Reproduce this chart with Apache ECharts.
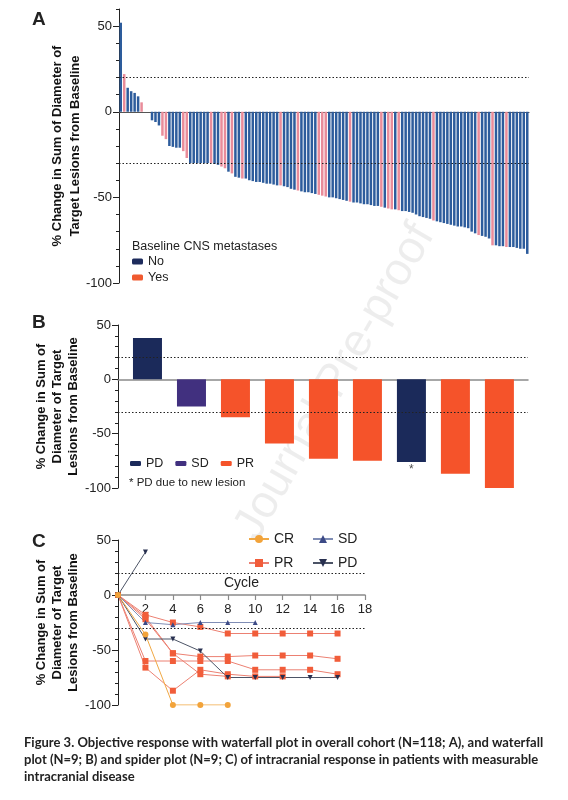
<!DOCTYPE html>
<html><head><meta charset="utf-8">
<script src="https://cdn.jsdelivr.net/npm/echarts@6/dist/echarts.min.js"></script>
<style>html,body{margin:0;padding:0;background:#fff}#c{width:568px;height:800px}</style>
</head><body><div id="c"></div>
<script>
// ---------- Panel A: waterfall, overall cohort (N=118) ----------
const waterfallValues = [
  52, 22, 14, 12, 11, 9, 5.5, 0, 0, -5,
  -6, -8, -14, -16, -20, -20.5, -21, -21, -23, -27,
  -30, -30, -30, -30, -30, -30, -30, -30.5, -31, -32,
  -33, -35, -36, -38, -38.5, -39, -39, -40, -40.5, -41,
  -41, -41.5, -42, -42, -42.5, -43, -43, -43.5, -44, -45,
  -45.5, -46, -46.5, -47, -47, -47.5, -48, -48.5, -49, -49.5,
  -50, -50, -50.5, -51, -51.5, -52, -52.5, -53, -53, -53.5,
  -54, -54, -54.5, -55, -55, -55.5, -56, -56.5, -57, -57,
  -57.5, -58, -58, -58.5, -59, -60, -61, -61.5, -62, -62.5,
  -63.5, -64, -64.5, -65, -65.5, -66, -66.5, -67, -67, -67.5,
  -68, -70, -71, -72, -72.5, -73, -74, -78, -78, -78.5,
  -78.5, -79, -79, -79, -79.5, -80, -80, -83
];
// 1 = baseline CNS metastases "Yes", 0 = "No"
const cnsMets = [
  0,1,0,0,0,0,1,0,0,0,
  0,0,1,1,0,0,0,0,1,1,
  0,0,0,0,0,0,1,0,0,1,
  1,0,1,0,0,1,0,0,0,0,
  0,0,0,0,0,0,1,0,0,0,
  0,1,0,0,0,0,0,1,1,1,
  0,0,0,0,0,0,1,0,0,0,
  0,0,0,0,0,1,0,1,1,0,
  1,0,0,0,0,0,0,0,0,0,
  1,0,0,0,0,0,0,0,0,0,
  0,0,0,1,0,0,0,1,0,0,
  0,1,0,0,0,0,0,0
];
const patientsA = waterfallValues.map((v, i) => 'Pt ' + (i + 1));

// ---------- Panel B: intracranial waterfall (N=9) ----------
const bValues   = [38, -25, -35, -59, -73, -75, -76, -87, -100];
const bResponse = ['PD', 'SD', 'PR', 'PR', 'PR', 'PR', 'PD', 'PR', 'PR'];
const bNotes    = ['', '', '', '', '', '', '*', '', ''];

// ---------- Panel C: spider plot (N=9) ----------
const cycles = [0, 2, 4, 6, 8, 10, 12, 14, 16];
const prPatient1 = [0, -18, -25, -29, -35, -35, -35, -35, -35];
const prPatient2 = [0, -22, -53, -56, -56, -55, -55, -55, -58];
const prPatient3 = [0, -60, -60, -60, -60, -68, -68, -68, -72];
const prPatient4 = [0, -66, -87, -68, -72, -74, -74];
const prPatient5 = [0, -20, -53, -72, -74];
const sdPatient  = [0, -25, -27, -25, -25, -25];
const pdPatient1 = [0, 39];
const pdPatient2 = [0, -40, -40, -51, -75, -75, -75, -75, -75];
const crPatient  = [0, -36, -100, -100, -100];

// tick values
const majorTicks = [-100, -50, 0, 50];
const cycleTicks = [2, 4, 6, 8, 10, 12, 14, 16, 18];

const FONT = '"Liberation Sans", Arial, sans-serif';
const dotted = { type: [1.5, 2], color: '#222', width: 1.2 };
function refLines() {
  return { silent: true, symbol: 'none', label: { show: false }, lineStyle: dotted,
           data: [{ yAxis: 20 }, { yAxis: -30 }], animation: false };
}
function yPair(grid, min, max, name, gap, lh) {
  return [
    { type: 'value', gridIndex: grid, position: 'left', min: min, max: max, interval: 10,
      axisLine: { show: true, onZero: false, lineStyle: { color: '#222', width: 1 } },
      axisTick: { show: true, length: 3, lineStyle: { color: '#222' } },
      axisLabel: { show: false }, splitLine: { show: false } },
    { type: 'value', gridIndex: grid, position: 'left', min: min, max: max,
      axisLine: { show: false, onZero: false },
      axisTick: { show: true, length: 6, customValues: majorTicks, lineStyle: { color: '#222' } },
      axisLabel: { customValues: majorTicks, fontSize: 13, color: '#222', margin: 7, fontFamily: FONT },
      splitLine: { show: false },
      name: name, nameLocation: 'middle', nameGap: gap, nameMoveOverlap: false,
      nameTextStyle: { fontSize: 13, fontWeight: 'bold', color: '#111', lineHeight: lh, fontFamily: FONT } }
  ];
}

const colNo = '#2d5c9c', colYes = '#e98c9a';
const bColors = { PD: '#1b2a5a', SD: '#41307f', PR: '#f5532a' };

function spiderData(vals) { return vals.map((v, i) => [cycles[i], v]); }
function spiderSeries(name, vals, sym, symColor, lineColor, size, rot) {
  return { type: 'line', name: name, xAxisIndex: 2, yAxisIndex: 4, data: spiderData(vals),
    symbol: sym, symbolSize: size, symbolRotate: rot || 0,
    itemStyle: { color: symColor }, lineStyle: { color: lineColor, width: 1 }, animation: false };
}

const series = [
  { type: 'bar', name: 'No', xAxisIndex: 0, yAxisIndex: 0, barGap: '-100%', barCategoryGap: '28%',
    data: waterfallValues.map((v, i) => cnsMets[i] ? '-' : v), itemStyle: { color: colNo },
    markLine: refLines(), animation: false },
  { type: 'bar', name: 'Yes', xAxisIndex: 0, yAxisIndex: 0, barGap: '-100%', barCategoryGap: '28%',
    data: waterfallValues.map((v, i) => cnsMets[i] ? v : '-'), itemStyle: { color: colYes }, animation: false }
];
['PD', 'SD', 'PR'].forEach((r, k) => {
  const s = { type: 'bar', name: r, xAxisIndex: 1, yAxisIndex: 2, barWidth: 29, barGap: '-100%',
    data: bValues.map((v, i) => [i, v]).filter((d, i) => bResponse[i] === r),
    itemStyle: { color: bColors[r] }, animation: false };
  if (k === 0) s.markLine = refLines();
  series.push(s);
});
series.push({ type: 'scatter', name: 'note', xAxisIndex: 1, yAxisIndex: 2, symbolSize: 0,
  data: bValues.map((v, i) => [i, v]).filter((d, i) => bNotes[i] !== ''),
  label: { show: true, position: 'bottom', distance: 2, formatter: p => bNotes[p.data[0]], fontSize: 12, color: '#222' },
  animation: false, silent: true });

const prSym = '#f15d3a', prLine = '#ec8072';
const s1 = spiderSeries('C-PR', prPatient1, 'rect', prSym, prLine, 6);
s1.markLine = refLines();
series.push(s1,
  spiderSeries('C-PR', prPatient2, 'rect', prSym, prLine, 6),
  spiderSeries('C-PR', prPatient3, 'rect', prSym, prLine, 6),
  spiderSeries('C-PR', prPatient4, 'rect', prSym, prLine, 6),
  spiderSeries('C-PR', prPatient5, 'rect', prSym, prLine, 6),
  spiderSeries('C-SD', sdPatient, 'triangle', '#3c4a86', '#7f8db5', 5),
  spiderSeries('C-PD', pdPatient1, 'triangle', '#283050', '#4c5466', 5, 180),
  spiderSeries('C-PD', pdPatient2, 'triangle', '#283050', '#4c5466', 5, 180),
  spiderSeries('C-CR', crPatient, 'circle', '#f2a33a', '#f0a844', 6));

const stripC = n => n.replace('C-', '');
const option = {
  animation: false,
  textStyle: { fontFamily: FONT },
  title: [
    { text: 'A', left: 27, top: 5, textStyle: { fontSize: 19, fontWeight: 'bold', color: '#222', fontFamily: FONT } },
    { text: 'B', left: 27, top: 308, textStyle: { fontSize: 19, fontWeight: 'bold', color: '#222', fontFamily: FONT } },
    { text: 'C', left: 27, top: 527, textStyle: { fontSize: 19, fontWeight: 'bold', color: '#222', fontFamily: FONT } },
    { text: 'Baseline CNS metastases', left: 127, top: 235, textStyle: { fontSize: 12.5, fontWeight: 'normal', color: '#222', fontFamily: FONT } },
    { text: '* PD due to new lesion', left: 124, top: 472, textStyle: { fontSize: 11.5, fontWeight: 'normal', color: '#222', fontFamily: FONT } },
    { text: 'Figure 3. Objective response with waterfall plot in overall cohort (N=118; A), and waterfall\nplot (N=9; B) and spider plot (N=9; C) of intracranial response in patients with measurable\nintracranial disease',
      left: 19, top: 729, textStyle: { fontSize: 13, fontWeight: 'bold', color: '#222', lineHeight: 17, fontFamily: 'Lato, "Open Sans", sans-serif' } }
  ],
  legend: [
    { data: [{ name: 'No', itemStyle: { color: '#1d2b5c' } }, { name: 'Yes', itemStyle: { color: '#f05a30' } }],
      orient: 'vertical', left: 127, top: 250, itemWidth: 11, itemHeight: 6, itemGap: 3,
      textStyle: { fontSize: 12.5, color: '#222', fontFamily: FONT }, selectedMode: false },
    { data: ['PD', 'SD', 'PR'], orient: 'horizontal', left: 125, top: 452, itemWidth: 11, itemHeight: 5, itemGap: 12,
      textStyle: { fontSize: 12.5, color: '#222', fontFamily: FONT }, selectedMode: false },
    { data: ['C-CR', 'C-PR'], formatter: stripC, orient: 'vertical', left: 243, top: 527, itemWidth: 20, itemHeight: 10, itemGap: 10,
      textStyle: { fontSize: 14, color: '#222', fontFamily: FONT }, selectedMode: false },
    { data: ['C-SD', 'C-PD'], formatter: stripC, orient: 'vertical', left: 307, top: 527, itemWidth: 20, itemHeight: 10, itemGap: 10,
      textStyle: { fontSize: 14, color: '#222', fontFamily: FONT }, selectedMode: false }
  ],
  grid: [
    { left: 119, top: 9, width: 410, height: 274 },
    { left: 118, top: 325, width: 410, height: 163 },
    { left: 118, top: 540, width: 247, height: 165 }
  ],
  xAxis: [
    { type: 'category', gridIndex: 0, data: patientsA, boundaryGap: true,
      axisLine: { onZero: true, lineStyle: { color: '#555', width: 1.2 } },
      axisTick: { show: false }, axisLabel: { show: false }, splitLine: { show: false } },
    { type: 'value', gridIndex: 1, min: -0.67, max: 8.65,
      axisLine: { onZero: true, lineStyle: { color: '#8a8a8a', width: 1.5 } },
      axisTick: { show: false }, axisLabel: { show: false }, splitLine: { show: false } },
    { type: 'value', gridIndex: 2, min: 0, max: 18, interval: 2, position: 'bottom', offset: -110,
      axisLine: { onZero: false, lineStyle: { color: '#8a8a8a', width: 1.5 } },
      axisTick: { show: true, length: 5, customValues: cycleTicks, lineStyle: { color: '#8a8a8a', width: 1.2 } },
      axisLabel: { fontSize: 13, color: '#222', margin: 8, customValues: cycleTicks },
      splitLine: { show: false },
      name: 'Cycle', nameLocation: 'middle', nameGap: -19, nameMoveOverlap: false,
      nameTextStyle: { fontSize: 14, color: '#222', fontFamily: FONT } }
  ],
  yAxis: [].concat(
    yPair(0, -100, 60, '% Change in Sum of Diameter of\nTarget Lesions from Baseline', 35, 18),
    yPair(1, -100, 50, '% Change in Sum of\nDiameter of Target\nLesions from Baseline', 37, 16),
    yPair(2, -100, 50, '% Change in Sum of\nDiameter of Target\nLesions from Baseline', 37, 16)
  ),
  graphic: [
    { type: 'text', x: 335, y: 382, rotation: 60 * Math.PI / 180, z: -10, silent: true,
      style: { text: 'Journal Pre-proof', fontSize: 46, fontFamily: FONT, fill: 'rgba(0,0,0,0.07)',
               textAlign: 'center', textVerticalAlign: 'middle' } }
  ],
  series: series
};
const chart = echarts.init(document.getElementById('c'), null, { renderer: 'canvas' });
chart.setOption(option);
</script></body></html>
